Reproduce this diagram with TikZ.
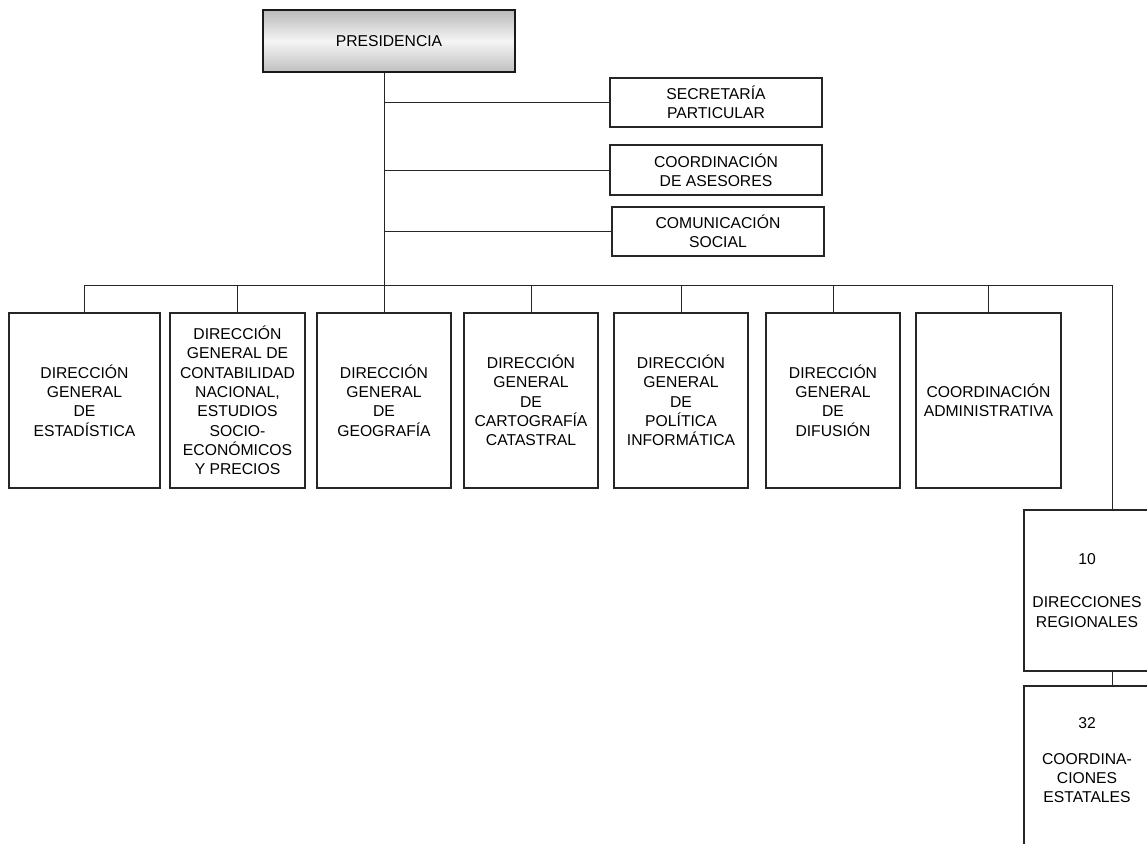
\documentclass[tikz,border=0pt]{standalone}
\usepackage{fontspec}
\setmainfont{Liberation Sans}
\begin{document}
\begin{tikzpicture}[x=1pt,y=-1pt,
  every node/.style={font=\fontsize{15.7}{19.3}\selectfont, align=center, inner sep=0pt},
  unit/.style={draw=black!85, line width=1.1pt, fill=white},
  topunit/.style={draw=black!90, line width=1.9pt, top color=gray!55, bottom color=gray!50, middle color=white!92!gray},
  staff/.style={unit, minimum width=212pt, minimum height=49pt},
  dept/.style={unit, minimum height=175pt},
  link/.style={draw=black!85, line width=1pt}]
  \clip (0,0) rectangle (1147,843);
  \fill[white] (0,0) rectangle (1147,843);

  % head of the organisation
  \node[topunit, minimum width=252pt, minimum height=62pt] (pres) at (389,41) {PRESIDENCIA};

  % staff units
  \node[staff] (sec) at (716,102.5) {SECRETARÍA\\PARTICULAR};
  \node[staff, minimum height=50pt] (ase) at (716,170) {COORDINACIÓN\\DE ASESORES};
  \node[staff] (com) at (718,231.5) {COMUNICACIÓN\\SOCIAL};

  % general directorates
  \node[dept, minimum width=151pt] (est) at (84.5,400.5) {DIRECCIÓN\\GENERAL\\DE\\ESTADÍSTICA};
  \node[dept, minimum width=135pt] (con) at (237.5,400.5) {DIRECCIÓN\\GENERAL DE\\CONTABILIDAD\\NACIONAL,\\ESTUDIOS\\SOCIO-\\ECONÓMICOS\\Y PRECIOS};
  \node[dept, minimum width=134pt] (geo) at (384,400.5) {DIRECCIÓN\\GENERAL\\DE\\GEOGRAFÍA};
  \node[dept, minimum width=134pt] (car) at (531,400.5) {DIRECCIÓN\\GENERAL\\DE\\CARTOGRAFÍA\\CATASTRAL};
  \node[dept, minimum width=134pt] (pol) at (681,400.5) {DIRECCIÓN\\GENERAL\\DE\\POLÍTICA\\INFORMÁTICA};
  \node[dept, minimum width=134pt] (dif) at (833,400.5) {DIRECCIÓN\\GENERAL\\DE\\DIFUSIÓN};
  \node[dept, minimum width=145pt] (adm) at (988.5,400.5) {COORDINACIÓN\\ADMINISTRATIVA};

  % regional structure
  \node[unit, minimum width=126pt, minimum height=161pt] (reg) at (1087,590.5) {10\\[23.7pt]DIRECCIONES\\REGIONALES};
  \node[unit, minimum width=126pt, minimum height=180pt] (coo) at (1087,776) {};
  \node (cootext) at (1087,760) {32\\[16.5pt]COORDINA-\\CIONES\\ESTATALES};

  % connectors
  \coordinate (busL) at (84.5,285);
  \coordinate (busR) at (1112,285);
  \draw[link] (geo.north |- pres.south) -- (geo.north);
  \foreach \s in {sec,ase,com}
    \draw[link] (geo.north |- \s.west) -- (\s.west);
  \draw[link] (est.north) -- (est.north |- busL) -- (busR) -- (busR |- reg.north);
  \foreach \d in {con,car,pol,dif,adm}
    \draw[link] (\d.north) -- (\d.north |- busL);
  \draw[link] (busR |- reg.south) -- (busR |- coo.north);
\end{tikzpicture}
\end{document}
